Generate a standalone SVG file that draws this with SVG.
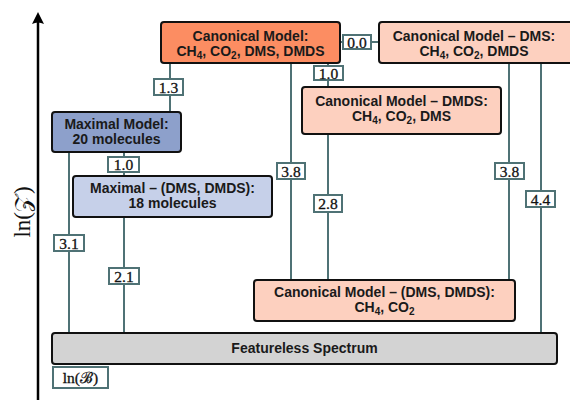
<svg xmlns="http://www.w3.org/2000/svg" width="570" height="400" viewBox="0 0 570 400">
<style>
.box{stroke:#111;stroke-width:2}
.t{font-family:"Liberation Sans","DejaVu Sans",sans-serif;font-weight:bold;font-size:14px;fill:#1a1a1a;text-anchor:middle}
.c{stroke:#4F7275;stroke-width:2;fill:none}
.lb{fill:#fff;stroke:#4F7275;stroke-width:2}
.lt{font-family:"Liberation Serif","DejaVu Serif",serif;font-size:15.5px;fill:#111;text-anchor:middle;stroke:#111;stroke-width:0.3}
.s{font-size:10px}
</style>
<rect width="570" height="400" fill="#fff"/>
<g id="axis">
<line x1="38" y1="400" x2="38" y2="20" stroke="#000" stroke-width="2.5"/>
<path d="M38,12 L44,24 Q38,21 32,24 Z" fill="#000"/>
<text transform="translate(30,212) rotate(-90)" font-family="Liberation Serif,DejaVu Serif,serif" font-size="23" text-anchor="middle" fill="#111">ln(𝒵)</text>
</g>
<g id="connectors">
<line class="c" x1="170" y1="63" x2="170" y2="112"/>
<line class="c" x1="328" y1="63" x2="328" y2="87"/>
<line class="c" x1="291" y1="63" x2="291" y2="280"/>
<line class="c" x1="341" y1="42" x2="379" y2="42"/>
<line class="c" x1="124" y1="152" x2="124" y2="176"/>
<line class="c" x1="69" y1="152" x2="69" y2="333"/>
<line class="c" x1="124" y1="217" x2="124" y2="333"/>
<line class="c" x1="328" y1="134" x2="328" y2="280"/>
<line class="c" x1="509" y1="63" x2="509" y2="280"/>
<line class="c" x1="541" y1="63" x2="541" y2="333"/>
<rect class="lb" x="154" y="79" width="29" height="16"/><text class="lt" x="168.5" y="92.5">1.3</text>
<rect class="lb" x="314" y="66" width="29" height="14"/><text class="lt" x="328.5" y="78.5">1.0</text>
<rect class="lb" x="277" y="163" width="28" height="16"/><text class="lt" x="291" y="176.5">3.8</text>
<rect class="lb" x="343" y="35" width="28" height="14"/><text class="lt" x="357" y="47.5">0.0</text>
<rect class="lb" x="108" y="157" width="31" height="15"/><text class="lt" x="123.5" y="169.5">1.0</text>
<rect class="lb" x="54" y="235" width="30" height="16"/><text class="lt" x="69" y="248.5">3.1</text>
<rect class="lb" x="109" y="268" width="30" height="16"/><text class="lt" x="124" y="281.5">2.1</text>
<rect class="lb" x="314" y="195" width="28" height="17"/><text class="lt" x="328" y="208.5">2.8</text>
<rect class="lb" x="495" y="163" width="29" height="16"/><text class="lt" x="509.5" y="176.5">3.8</text>
<rect class="lb" x="526" y="191" width="29" height="16"/><text class="lt" x="540.5" y="204.5">4.4</text>
<rect class="lb" x="53" y="367" width="55" height="21"/><text class="lt" x="80.5" y="383">ln(ℬ)</text>
</g>
<g id="canonical">
<rect class="box" x="161" y="22" width="179" height="41" rx="3" fill="#FC8D62"/>
<text class="t" x="250.5" y="41">Canonical Model:</text>
<text class="t" x="250.5" y="56">CH<tspan class="s" dy="3">4</tspan><tspan dy="-3">, CO</tspan><tspan class="s" dy="3">2</tspan><tspan dy="-3">, DMS, DMDS</tspan></text>
</g>
<g id="canonical-dms">
<rect class="box" x="379" y="22" width="196" height="41" rx="3" fill="#FDD0BF"/>
<text class="t" x="474" y="41">Canonical Model – DMS:</text>
<text class="t" x="474" y="56">CH<tspan class="s" dy="3">4</tspan><tspan dy="-3">, CO</tspan><tspan class="s" dy="3">2</tspan><tspan dy="-3">, DMDS</tspan></text>
</g>
<g id="canonical-dmds">
<rect class="box" x="302" y="87" width="199" height="47" rx="3" fill="#FDD0BF"/>
<text class="t" x="401.5" y="106">Canonical Model – DMDS:</text>
<text class="t" x="401.5" y="121">CH<tspan class="s" dy="3">4</tspan><tspan dy="-3">, CO</tspan><tspan class="s" dy="3">2</tspan><tspan dy="-3">, DMS</tspan></text>
</g>
<g id="maximal">
<rect class="box" x="52" y="112" width="129" height="40" rx="3" fill="#8DA0CB"/>
<text class="t" x="116.5" y="129">Maximal Model:</text>
<text class="t" x="116.5" y="144">20 molecules</text>
</g>
<g id="maximal-dms-dmds">
<rect class="box" x="73" y="176" width="199" height="41" rx="3" fill="#C6D0E9"/>
<text class="t" x="172.5" y="193">Maximal – (DMS, DMDS):</text>
<text class="t" x="172.5" y="208">18 molecules</text>
</g>
<g id="canonical-dms-dmds">
<rect class="box" x="254" y="280" width="261" height="41" rx="3" fill="#FDD0BF"/>
<text class="t" x="384.5" y="297">Canonical Model – (DMS, DMDS):</text>
<text class="t" x="384.5" y="312">CH<tspan class="s" dy="3">4</tspan><tspan dy="-3">, CO</tspan><tspan class="s" dy="3">2</tspan></text>
</g>
<g id="featureless">
<rect class="box" x="52" y="333" width="505" height="31" rx="3" fill="#D3D3D3"/>
<text class="t" x="304.5" y="353">Featureless Spectrum</text>
</g>
</svg>
